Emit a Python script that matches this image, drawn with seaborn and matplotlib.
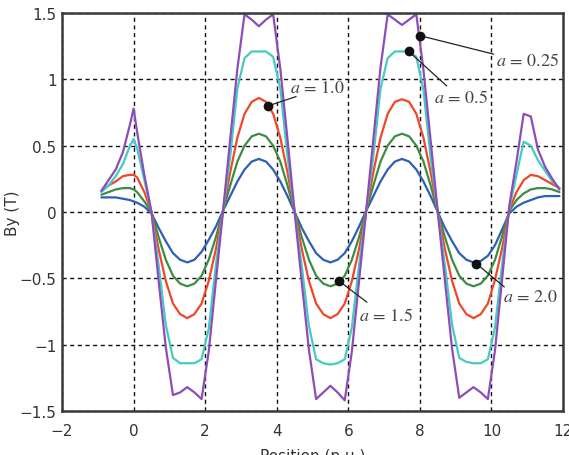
import matplotlib
matplotlib.use("Agg")
import matplotlib.pyplot as plt
import pandas as pd
import seaborn as sns

position = [-0.9, -0.7, -0.5, -0.3, -0.1, 0.0, 0.1, 0.3,
            0.5, 0.7, 0.9, 1.1, 1.3, 1.5, 1.7, 1.9, 2.1, 2.3,
            2.5, 2.7, 2.9, 3.1, 3.3, 3.5, 3.7, 3.9, 4.1, 4.3,
            4.5, 4.7, 4.9, 5.1, 5.3, 5.5, 5.7, 5.9, 6.1, 6.3,
            6.5, 6.7, 6.9, 7.1, 7.3, 7.5, 7.7, 7.9, 8.1, 8.3,
            8.5, 8.7, 8.9, 9.1, 9.3, 9.5, 9.7, 9.9, 10.1, 10.3,
            10.5, 10.7, 10.9, 11.1, 11.3, 11.5, 11.7, 11.9]

by_a025 = [0.16, 0.24, 0.32, 0.45, 0.66, 0.78, 0.60, 0.28,
           0.00, -0.52, -1.02, -1.38, -1.36, -1.32, -1.36, -1.41, -1.05, -0.52,
           0.01, 0.55, 1.08, 1.49, 1.45, 1.40, 1.45, 1.49, 1.08, 0.55,
           0.00, -0.53, -1.04, -1.41, -1.36, -1.31, -1.36, -1.42, -1.05, -0.52,
           0.01, 0.55, 1.09, 1.49, 1.45, 1.41, 1.45, 1.49, 1.07, 0.54,
           0.00, -0.52, -1.03, -1.40, -1.36, -1.32, -1.36, -1.41, -1.04, -0.50,
           0.05, 0.38, 0.74, 0.72, 0.47, 0.34, 0.25, 0.17]

by_a05 = [0.15, 0.20, 0.27, 0.36, 0.50, 0.55, 0.48, 0.24,
          0.00, -0.40, -0.85, -1.10, -1.14, -1.14, -1.14, -1.11, -0.88, -0.40,
          0.01, 0.42, 0.93, 1.16, 1.21, 1.21, 1.21, 1.17, 0.93, 0.42,
          0.00, -0.41, -0.86, -1.11, -1.14, -1.15, -1.14, -1.11, -0.87, -0.40,
          0.01, 0.42, 0.93, 1.16, 1.21, 1.21, 1.21, 1.17, 0.92, 0.41,
          0.00, -0.40, -0.85, -1.10, -1.13, -1.14, -1.14, -1.11, -0.87, -0.39,
          0.03, 0.28, 0.53, 0.50, 0.39, 0.31, 0.23, 0.18]

by_a10 = [0.16, 0.20, 0.23, 0.27, 0.28, 0.28, 0.26, 0.15,
          0.00, -0.28, -0.52, -0.69, -0.77, -0.80, -0.77, -0.69, -0.52, -0.28,
          0.01, 0.30, 0.56, 0.74, 0.83, 0.86, 0.83, 0.74, 0.56, 0.30,
          0.00, -0.28, -0.52, -0.69, -0.77, -0.80, -0.77, -0.69, -0.52, -0.28,
          0.01, 0.30, 0.56, 0.74, 0.83, 0.85, 0.83, 0.74, 0.56, 0.30,
          0.00, -0.28, -0.52, -0.69, -0.77, -0.80, -0.77, -0.69, -0.51, -0.27,
          0.02, 0.15, 0.24, 0.28, 0.27, 0.24, 0.21, 0.18]

by_a15 = [0.13, 0.15, 0.17, 0.18, 0.18, 0.17, 0.15, 0.08,
          0.00, -0.19, -0.36, -0.48, -0.54, -0.56, -0.54, -0.48, -0.36, -0.19,
          0.01, 0.20, 0.38, 0.50, 0.57, 0.59, 0.57, 0.50, 0.38, 0.20,
          0.00, -0.19, -0.36, -0.48, -0.54, -0.56, -0.54, -0.48, -0.36, -0.19,
          0.01, 0.20, 0.38, 0.50, 0.57, 0.59, 0.57, 0.50, 0.38, 0.20,
          0.00, -0.19, -0.36, -0.48, -0.54, -0.56, -0.54, -0.48, -0.36, -0.18,
          0.01, 0.09, 0.14, 0.17, 0.18, 0.18, 0.17, 0.15]

by_a20 = [0.11, 0.11, 0.11, 0.10, 0.09, 0.08, 0.07, 0.04,
          -0.01, -0.12, -0.22, -0.31, -0.36, -0.38, -0.36, -0.30, -0.21, -0.11,
          0.01, 0.12, 0.23, 0.32, 0.38, 0.40, 0.38, 0.32, 0.23, 0.12,
          0.00, -0.12, -0.22, -0.31, -0.36, -0.38, -0.36, -0.31, -0.22, -0.11,
          0.01, 0.12, 0.23, 0.32, 0.38, 0.40, 0.38, 0.32, 0.23, 0.12,
          0.00, -0.12, -0.22, -0.31, -0.36, -0.38, -0.37, -0.33, -0.25, -0.13,
          -0.01, 0.04, 0.07, 0.09, 0.11, 0.12, 0.12, 0.12]

series_names = ["a=2.0", "a=1.5", "a=1.0", "a=0.5", "a=0.25"]
series_values = [by_a20, by_a15, by_a10, by_a05, by_a025]
colors = ["#2e5fb4", "#3b8d42", "#f0472b", "#45cbbf", "#8c4dbb"]

x_ticks = [-2, 0, 2, 4, 6, 8, 10, 12]
x_ticklabels = ["\u22122", "0", "2", "4", "6", "8", "10", "12"]
y_ticks = [-1.5, -1, -0.5, 0, 0.5, 1, 1.5]
y_ticklabels = ["\u22121.5", "\u22121", "\u22120.5", "0", "0.5", "1", "1.5"]

# label text, dot on curve, end of leader line, text centre
notes = [
    (r"$a\,=\,0.25$", (7.99, 1.33), (10.06, 1.19), (11.0, 1.145)),
    (r"$a\,=\,0.5$", (7.69, 1.21), (8.75, 0.95), (9.15, 0.87)),
    (r"$a\,=\,1.0$", (3.76, 0.80), (4.54, 0.87), (5.13, 0.94)),
    (r"$a\,=\,1.5$", (5.74, -0.52), (6.52, -0.68), (7.06, -0.78)),
    (r"$a\,=\,2.0$", (9.58, -0.39), (10.36, -0.565), (11.09, -0.63)),
]

rows = []
for name, vals in zip(series_names, series_values):
    for xv, yv in zip(position, vals):
        rows.append({"Position": xv, "By": yv, "series": name})
df = pd.DataFrame(rows)

sns.set_theme(style="white")
plt.rcParams["font.family"] = ["DejaVu Sans"]
plt.rcParams["mathtext.fontset"] = "stix"

fig, ax = plt.subplots(figsize=(5.69, 4.56), dpi=100)
fig.subplots_adjust(left=0.109, right=0.9895, top=0.9693, bottom=0.0965)

sns.lineplot(data=df, x="Position", y="By", hue="series", hue_order=series_names,
             palette=colors, linewidth=1.6, estimator=None, legend=False, ax=ax)

ax.set_xlim(-2, 12)
ax.set_ylim(-1.5, 1.5)
ax.set_xticks(x_ticks)
ax.set_xticklabels(x_ticklabels)
ax.set_yticks(y_ticks)
ax.set_yticklabels(y_ticklabels)
ax.grid(True, color="#111111", linestyle=(0, (3, 2.5)), linewidth=1.0)
ax.set_axisbelow(True)
for s in ax.spines.values():
    s.set_color("#3a3a3a")
    s.set_linewidth(1.8)
ax.tick_params(axis="x", length=0, labelsize=11, labelcolor="#333333", pad=9)
ax.tick_params(axis="y", length=0, labelsize=11, labelcolor="#333333", pad=4)
ax.set_xlabel("Position (p.u.)", fontsize=11, color="#333333", labelpad=7)
ax.set_ylabel("By (T)", fontsize=11, color="#333333")
ax.yaxis.set_label_coords(-0.084, 0.5)

for text, dot, end, pos in notes:
    ax.plot([dot[0], end[0]], [dot[1], end[1]], color="#222222", linewidth=0.9, zorder=5)
    ax.plot(dot[0], dot[1], "o", color="#111111", markersize=6, zorder=6)
    ax.text(pos[0], pos[1], text, ha="center", va="center", fontsize=13,
            color="#444444", zorder=6)

fig.savefig("out.png", dpi=100)
